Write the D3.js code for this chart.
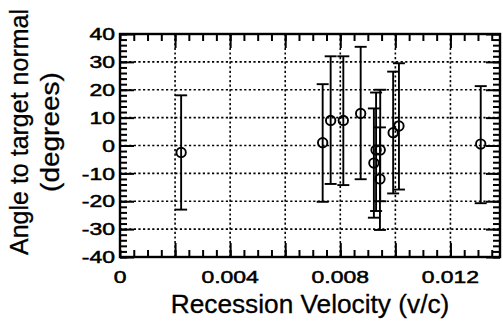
<!DOCTYPE html>
<html>
<head>
<meta charset="utf-8">
<script src="https://cdn.jsdelivr.net/npm/d3@7"></script>
<style>
  body { margin: 0; background: #fff; }
  svg { display: block; }
</style>
</head>
<body>
<svg id="chart"></svg>
<script>
// data
const velocity  = [0.00222, 0.00736, 0.00765, 0.00811, 0.00874, 0.00922, 0.00930, 0.00945, 0.00944, 0.00992, 0.01013, 0.01310];
const angle     = [-2.5, 1, 9, 9, 11.5, -6.3, -1.6, -1.6, -12, 4.6, 7, 0.5];
const angleHigh = [18, 22, 32, 32, 35.4, 13.3, 19, 20, 6.5, 26.5, 29.5, 21.3];
const angleLow  = [-23, -20.2, -13.8, -14.2, -12.1, -25.9, -23.5, -20, -30.3, -17.2, -15.8, -20.7];

const xTickValues = [0, 0.004, 0.008, 0.012];
const xTickLabels = ["0", "0.004", "0.008", "0.012"];
const xGridValues = [0.002, 0.004, 0.006, 0.008, 0.010, 0.012];
const yTickValues = [-40, -30, -20, -10, 0, 10, 20, 30, 40];
const yTickLabels = ["-40", "-30", "-20", "-10", "0", "10", "20", "30", "40"];
const yGridValues = [-30, -20, -10, 0, 10, 20, 30];

const width = 503;
const height = 322;
const marginTop = 34;
const marginRight = 3;
const marginBottom = 65;
const marginLeft = 120;

const x = d3.scaleLinear()
    .domain([0, 0.0138])
    .range([marginLeft, width - marginRight]);

const y = d3.scaleLinear()
    .domain([-40, 40])
    .range([height - marginBottom, marginTop]);

const svg = d3.select("#chart")
    .attr("width", width)
    .attr("height", height)
    .attr("viewBox", [0, 0, width, height]);

const font = "'Liberation Sans', Arial, Helvetica, sans-serif";

// dotted grid
svg.append("g")
    .selectAll("line")
    .data(yGridValues)
    .join("line")
      .attr("x1", marginLeft)
      .attr("x2", width - marginRight)
      .attr("y1", d => y(d))
      .attr("y2", d => y(d))
      .attr("stroke", "#000")
      .attr("stroke-width", 1.6)
      .attr("stroke-dasharray", "2.2,2.4");

svg.append("g")
    .selectAll("line")
    .data(xGridValues)
    .join("line")
      .attr("x1", d => x(d))
      .attr("x2", d => x(d))
      .attr("y1", marginTop)
      .attr("y2", height - marginBottom)
      .attr("stroke", "#000")
      .attr("stroke-width", 1.6)
      .attr("stroke-dasharray", "2.2,2.4");

// inward ticks on all four sides
const xMinor = d3.range(0, 0.0138, 0.0005);
const yMinor = d3.range(-40, 41, 2);

function ticks(axis, tx, ty) {
  svg.append("g")
      .attr("transform", `translate(${tx},${ty})`)
      .call(axis.tickFormat("").tickSizeOuter(0))
      .call(g => g.select(".domain").remove())
      .call(g => g.selectAll(".tick line").attr("stroke", "#000").attr("stroke-width", 2));
}

ticks(d3.axisBottom(x).tickValues(xMinor).tickSizeInner(-7), 0, y(-40));
ticks(d3.axisBottom(x).tickValues(xGridValues).tickSizeInner(-14), 0, y(-40));
ticks(d3.axisTop(x).tickValues(xMinor).tickSizeInner(-7), 0, y(40));
ticks(d3.axisTop(x).tickValues(xGridValues).tickSizeInner(-14), 0, y(40));
ticks(d3.axisLeft(y).tickValues(yMinor).tickSizeInner(-7), x(0), 0);
ticks(d3.axisLeft(y).tickValues(yTickValues).tickSizeInner(-14), x(0), 0);
ticks(d3.axisRight(y).tickValues(yMinor).tickSizeInner(-7), width - marginRight, 0);
ticks(d3.axisRight(y).tickValues(yTickValues).tickSizeInner(-14), width - marginRight, 0);

// frame
svg.append("rect")
    .attr("x", marginLeft)
    .attr("y", marginTop)
    .attr("width", width - marginRight - marginLeft)
    .attr("height", height - marginBottom - marginTop)
    .attr("fill", "none")
    .attr("stroke", "#000")
    .attr("stroke-width", 2.4);

// tick labels (wide, heavy face, like the original)
svg.append("g")
    .selectAll("text")
    .data(yTickValues)
    .join("text")
      .attr("transform", d => `translate(${marginLeft - 5},${y(d)}) scale(1.35,1)`)
      .attr("text-anchor", "end")
      .attr("dy", "0.36em")
      .attr("font-family", font)
      .attr("font-size", 17)
      .attr("stroke", "#000")
      .attr("stroke-width", 0.5)
      .text((d, i) => yTickLabels[i]);

svg.append("g")
    .selectAll("text")
    .data(xTickValues)
    .join("text")
      .attr("transform", d => `translate(${x(d)},${y(-40) + 26}) scale(1.35,1)`)
      .attr("text-anchor", "middle")
      .attr("font-family", font)
      .attr("font-size", 17)
      .attr("stroke", "#000")
      .attr("stroke-width", 0.5)
      .text((d, i) => xTickLabels[i]);

// error bars
const cap = 6;
const bars = svg.append("g")
    .attr("stroke", "#000")
    .attr("stroke-width", 1.9)
    .selectAll("g")
    .data(velocity.map((v, i) => ({v, a: angle[i], hi: angleHigh[i], lo: angleLow[i]})))
    .join("g");

bars.append("line")
    .attr("x1", d => x(d.v)).attr("x2", d => x(d.v))
    .attr("y1", d => y(d.hi)).attr("y2", d => y(d.lo));
bars.append("line")
    .attr("x1", d => x(d.v) - cap).attr("x2", d => x(d.v) + cap)
    .attr("y1", d => y(d.hi)).attr("y2", d => y(d.hi));
bars.append("line")
    .attr("x1", d => x(d.v) - cap).attr("x2", d => x(d.v) + cap)
    .attr("y1", d => y(d.lo)).attr("y2", d => y(d.lo));
bars.append("circle")
    .attr("cx", d => x(d.v))
    .attr("cy", d => y(d.a))
    .attr("r", 4.7)
    .attr("fill", "none");

// axis titles
const xMid = (marginLeft + width - marginRight) / 2;
svg.append("text")
    .attr("transform", `translate(${xMid},313) scale(1.05,1)`)
    .attr("text-anchor", "middle")
    .attr("font-family", font)
    .attr("font-size", 25)
    .attr("stroke", "#000")
    .attr("stroke-width", 0.3)
    .text("Recession Velocity (v/c)");

svg.append("text")
    .attr("transform", "translate(28,132) rotate(-90)")
    .attr("text-anchor", "middle")
    .attr("font-family", font)
    .attr("font-size", 25)
    .attr("stroke", "#000")
    .attr("stroke-width", 0.3)
    .text("Angle to target normal");

svg.append("text")
    .attr("transform", "translate(59,132) rotate(-90) scale(1.12,1)")
    .attr("text-anchor", "middle")
    .attr("font-family", font)
    .attr("font-size", 25)
    .attr("stroke", "#000")
    .attr("stroke-width", 0.3)
    .text("(degrees)");
</script>
</body>
</html>
